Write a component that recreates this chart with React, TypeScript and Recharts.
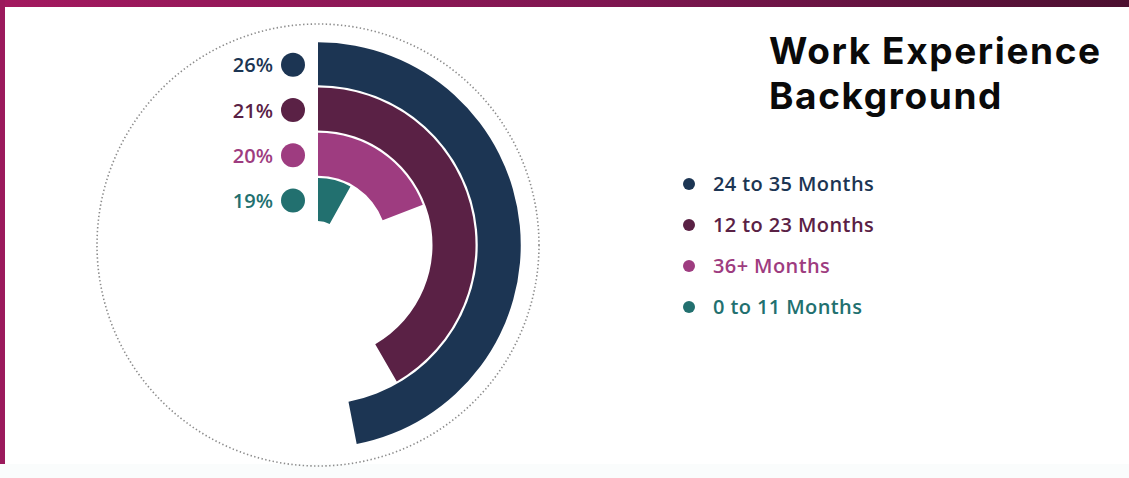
import { RadialBarChart, RadialBar, PolarAngleAxis, PolarGrid, LabelList, Cell } from 'recharts'

// inner ring first, outer ring last (radius axis runs from inside out)
const groups = ['0 to 11 Months', '36+ Months', '12 to 23 Months', '24 to 35 Months']
const shares = [19, 20, 21, 26]
// sweep of each arc in degrees (arcs are not drawn to the percentage)
const sweeps = [29, 69, 150, 169]
const colors = ['#22706f', '#9e3c80', '#5a2145', '#1c3553']
const legendOrder = [3, 2, 1, 0]
const titleLines = ['Work Experience', 'Background']

const data = groups.map((name, i) => ({ name, pct: shares[i], arc: sweeps[i] }))

const FONT = '"Open Sans", "Noto Sans", sans-serif'

// puts "26%" and a round marker to the left of where each arc starts
function ShareLabel(props: any) {
  const { viewBox, value, index } = props
  if (!viewBox) return null
  const { cx, cy, innerRadius, outerRadius } = viewBox
  const y = cy - (innerRadius + outerRadius) / 2 + 1
  const color = colors[index]
  return (
    <g>
      <circle cx={cx - 25} cy={y} r={12} fill={color} />
      <text
        x={cx - 45}
        y={y}
        textAnchor="end"
        dominantBaseline="central"
        fill={color}
        style={{ fontFamily: FONT, fontSize: 20, fontWeight: 600 }}
      >
        {`${value}%`}
      </text>
    </g>
  )
}

export default function App() {
  return (
    <div
      style={{
        position: 'absolute',
        left: 0,
        top: 0,
        width: 1129,
        height: 478,
        background: '#ffffff',
        overflow: 'hidden',
        fontFamily: FONT,
      }}
    >
      <div
        style={{
          position: 'absolute',
          left: 0,
          top: 0,
          width: 1129,
          height: 7,
          background: 'linear-gradient(90deg, #a3195f 0%, #7e1650 55%, #4c1030 100%)',
        }}
      />
      <div style={{ position: 'absolute', left: 0, top: 0, width: 5, height: 465, background: '#9b1a5c' }} />
      <div style={{ position: 'absolute', left: 0, top: 464, width: 1129, height: 14, background: '#fafcfc' }} />

      <div style={{ position: 'absolute', left: 0, top: 0 }}>
        <RadialBarChart
          width={640}
          height={478}
          data={data}
          cx={318}
          cy={245}
          innerRadius={23}
          outerRadius={204}
          startAngle={90}
          endAngle={-270}
          barCategoryGap={1}
          margin={{ top: 0, right: 0, bottom: 0, left: 0 }}
        >
          <PolarGrid
            gridType="circle"
            polarRadius={[221]}
            radialLines={false}
            stroke="#8c8c8c"
            strokeWidth={1.6}
            strokeDasharray="1.4 2.4"
          />
          <PolarAngleAxis type="number" domain={[0, 360]} tick={false} axisLine={false} />
          <RadialBar dataKey="arc" isAnimationActive={false}>
            {data.map((d, i) => (
              <Cell key={d.name} fill={colors[i]} />
            ))}
            <LabelList dataKey="pct" content={<ShareLabel />} />
          </RadialBar>
        </RadialBarChart>
      </div>

      <div style={{ position: 'absolute', left: 769, top: 28 }}>
        {titleLines.map((t) => (
          <div
            key={t}
            style={{
              fontFamily: 'Inter, "Open Sans", sans-serif',
              fontSize: 37,
              lineHeight: '45px',
              height: 45,
              fontWeight: 700,
              letterSpacing: 1.6,
              color: '#0a0a0a',
              whiteSpace: 'nowrap',
            }}
          >
            {t}
          </div>
        ))}
      </div>

      <div style={{ position: 'absolute', left: 683, top: 163 }}>
        {legendOrder.map((i) => (
          <div key={groups[i]} style={{ display: 'flex', alignItems: 'center', height: 41 }}>
            <span
              style={{
                width: 12,
                height: 12,
                borderRadius: 6,
                background: colors[i],
                marginRight: 18,
              }}
            />
            <span style={{ fontSize: 20, fontWeight: 600, letterSpacing: 0.4, color: colors[i] }}>
              {groups[i]}
            </span>
          </div>
        ))}
      </div>
    </div>
  )
}
